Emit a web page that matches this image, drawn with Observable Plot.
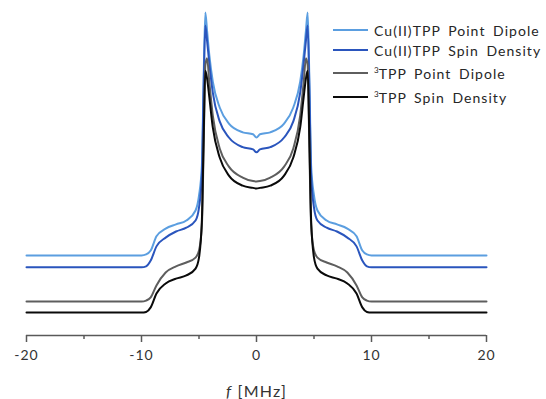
<!DOCTYPE html>
<html>
<head>
<meta charset="utf-8">
<script src="https://cdn.jsdelivr.net/npm/d3@7"></script>
<script src="https://cdn.jsdelivr.net/npm/@observablehq/plot@0.6"></script>
<style>
  html, body { margin: 0; padding: 0; background: #fff; }
  #wrap { position: relative; width: 546px; height: 399px; font-family: Lato, "Open Sans", sans-serif; }
  #legend { position: absolute; left: 0; top: 0; width: 546px; height: 399px; pointer-events: none; }
  .row { position: absolute; left: 333px; height: 20px; display: flex; align-items: center; }
  .sw { width: 35px; height: 2px; margin-right: 6px; }
  .lab { font-size: 14px; color: #262626; letter-spacing: 1.05px; word-spacing: 3px; white-space: nowrap; }
  .lab sup { font-size: 8px; letter-spacing: 0; vertical-align: 6px; line-height: 0; }
</style>
</head>
<body>
<div id="wrap"></div>
<script>
// Frequency axis (MHz)
const fValues = [-20,-10,-9.6,-9.2,-8.7,-7.9,-7.0,-6.1,-5.3,-5.0,-4.75,-4.6,-4.45,-4.3,-4.1,-3.8,-3.2,-2.4,-1.2,-0.3,
  0,
  0.3,1.2,2.4,3.2,3.8,4.1,4.3,4.45,4.6,4.75,5.0,5.3,6.1,7.0,7.9,8.7,9.2,9.6,10,20];

// Series (offset intensities, arbitrary units)
const cuPointDipole = [24.8,24.8,25.1,26.3,30.7,33.1,34.4,35.6,38.7,43.3,52.6,78.9,100,94.4,86.7,78.6,70.6,65.6,62.9,62.3,
  61.3,
  62.3,62.9,65.6,70.6,78.6,86.7,94.4,100,78.9,52.6,43.3,38.7,35.6,34.4,33.1,30.7,26.3,25.1,24.8,24.8];
const cuSpinDensity = [21.1,21.1,21.4,23.2,27.6,30.3,32.2,33.4,35.6,39.6,49.5,75.9,96.0,91.3,84.2,75.2,66.3,61.3,58.3,57.6,
  56.7,
  57.6,58.3,61.3,66.3,75.2,84.2,91.3,96.0,75.9,49.5,39.6,35.6,33.4,32.2,30.3,27.6,23.2,21.4,21.1,21.1];
const tppPointDipole = [10.5,10.5,10.8,11.8,15.5,19.5,21.4,22.6,24.1,26.3,34.1,57.3,83.6,85.8,78.3,68.1,57.9,52.3,48.9,47.8,
  47.7,
  47.8,48.9,52.3,57.9,68.1,78.3,85.8,83.6,57.3,34.1,26.3,24.1,22.6,21.4,19.5,15.5,11.8,10.8,10.5,10.5];
const tppSpinDensity = [7.1,7.1,7.3,8.7,13.0,16.1,17.6,18.6,20.7,24.1,35.6,60.4,82.0,79.6,73.7,64.4,55.1,49.5,46.4,45.7,
  45.5,
  45.7,46.4,49.5,55.1,64.4,73.7,79.6,82.0,60.4,35.6,24.1,20.7,18.6,17.6,16.1,13.0,8.7,7.3,7.1,7.1];

const seriesNames = ["Cu(II)TPP Point Dipole", "Cu(II)TPP Spin Density", "³TPP Point Dipole", "³TPP Spin Density"];
const seriesColors = ["#5b9ee0", "#2a55bd", "#5e5e5e", "#0a0a0a"];
const seriesValues = [cuPointDipole, cuSpinDensity, tppPointDipole, tppSpinDensity];
const majorTicks = [-20, -10, 0, 10, 20];
const minorTicks = [-15, -5, 5, 15];

const rows = [];
seriesNames.forEach((name, i) => {
  fValues.forEach((f, j) => rows.push({series: name, f, v: seriesValues[i][j]}));
});

const chart = Plot.plot({
  width: 546,
  height: 399,
  marginLeft: 26,
  marginRight: 60,
  marginTop: 12,
  marginBottom: 64,
  style: {fontFamily: "Lato, 'Open Sans', sans-serif", background: "#fff"},
  x: {domain: [-20, 20]},
  y: {domain: [0, 100], axis: null},
  color: {domain: seriesNames, range: seriesColors},
  marks: [
    Plot.line(rows, {x: "f", y: "v", z: "series", stroke: "series", strokeWidth: 2, curve: "monotone-x"}),
    Plot.ruleY([0], {stroke: "#595959", strokeWidth: 1.5}),
    Plot.axisX(minorTicks, {tickSize: 4, stroke: "#595959", strokeWidth: 1.5, text: null, label: null}),
    Plot.axisX(majorTicks, {tickSize: 7, stroke: "#595959", strokeWidth: 1.5, tickPadding: 8,
      tickFormat: d => String(d),
      fontSize: 14, fill: "#333", label: "f [MHz]", labelAnchor: "center", labelArrow: "none", labelOffset: 61})
  ]
});

document.getElementById("wrap").appendChild(chart);

// italic f in axis label, spacing like the original
chart.querySelectorAll("text").forEach(t => {
  if (t.textContent.includes("[MHz]")) {
    t.textContent = "";
    const a = document.createElementNS("http://www.w3.org/2000/svg", "tspan");
    a.setAttribute("font-style", "italic");
    a.textContent = "f";
    const b = document.createElementNS("http://www.w3.org/2000/svg", "tspan");
    b.textContent = " [MHz]";
    t.appendChild(a); t.appendChild(b);
    t.setAttribute("font-size", "16");
    t.setAttribute("fill", "#333");
    t.style.letterSpacing = "1.2px";
  }
});
chart.querySelectorAll("g[aria-label='x-axis tick label'] text").forEach(t => { t.style.letterSpacing = "1px"; });

// legend overlay
const legend = document.createElement("div");
legend.id = "legend";
const rowTops = [20, 40, 63, 87];
seriesNames.forEach((name, i) => {
  const r = document.createElement("div");
  r.className = "row";
  r.style.top = rowTops[i] + "px";
  const sw = document.createElement("div");
  sw.className = "sw";
  sw.style.background = seriesColors[i];
  const lab = document.createElement("div");
  lab.className = "lab";
  if (name.startsWith("³")) {
    lab.innerHTML = "<sup>3</sup>" + name.slice(1);
  } else {
    lab.textContent = name;
  }
  r.appendChild(sw); r.appendChild(lab);
  legend.appendChild(r);
});
document.getElementById("wrap").appendChild(legend);
</script>
</body>
</html>
